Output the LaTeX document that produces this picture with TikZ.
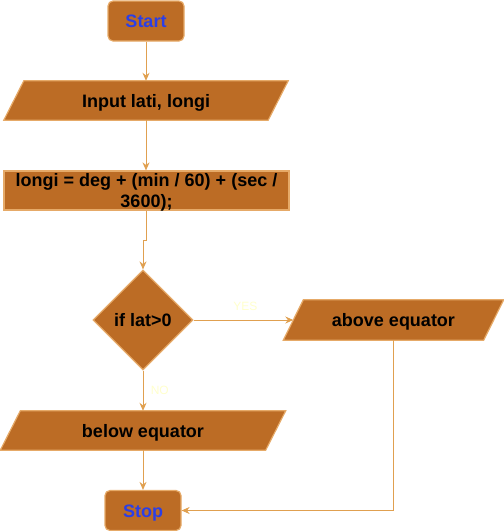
\documentclass[tikz,border=0pt]{standalone}
\usepackage{fontspec}
\setmainfont{Liberation Sans}
\usetikzlibrary{shapes.geometric,arrows.meta,calc}
\definecolor{boxfill}{HTML}{BC6C25}
\definecolor{boxline}{HTML}{E6AA68}
\definecolor{arrowc}{HTML}{E0A050}
\definecolor{bluetext}{HTML}{2B3FE6}
\definecolor{labelc}{HTML}{FFFFCC}
\begin{document}
\begin{tikzpicture}[x=1pt,y=-1pt,
  txt/.style={font=\fontsize{18}{21}\selectfont\bfseries, text=black},
  one/.style={text height=13pt, text depth=0pt},
  term/.style={txt, one, rounded corners=5pt, draw=boxline, fill=boxfill, line width=1.2pt, text=bluetext, minimum width=76pt, minimum height=40pt, inner sep=0pt},
  procbox/.style={draw=boxline, fill=boxfill, line width=1.2pt, minimum width=285pt, minimum height=39pt, inner sep=0pt},
  iobox/.style={minimum height=39pt, inner sep=0pt},
  decbox/.style={txt, one, diamond, aspect=1, draw=boxline, fill=boxfill, line width=1.2pt, minimum size=100pt, inner sep=0pt},
  flow/.style={draw=arrowc, line width=1pt, -{Stealth[length=8pt,width=7pt]}},
  lbl/.style={font=\fontsize{12}{14}\selectfont, text=labelc}
]
\useasboundingbox (0,0) rectangle (504,531);
\node[term] (start) at (146,21) {Start};
\node[iobox, minimum width=264pt] (input) at (146,100.5) {};
\node[procbox] (calc) at (146.5,190.5) {};
\node[decbox] (dec) at (143,320) {if lat>0};
\node[iobox, minimum width=200pt, minimum height=40pt] (above) at (393.5,320) {};
\node[iobox, minimum width=265pt] (below) at (143,430.5) {};
\node[term] (stop) at (143,510.5) {Stop};
% parallelograms
\foreach \n in {input,above,below}{
  \filldraw[draw=boxline, fill=boxfill, line width=1.2pt]
    ($(\n.north west)+(10,0)$) -- ($(\n.north east)+(10,0)$) --
    ($(\n.south east)+(-10,0)$) -- ($(\n.south west)+(-10,0)$) -- cycle;
}
\node[txt, one] (inputtxt) at (input) {Input lati, longi};
\node[txt, one] (abovetxt) at (above) {above equator};
\node[txt, one] (belowtxt) at (below) {below equator};
\node[txt, align=center, inner sep=0pt, yshift=-1.5pt] (calctxt) at (calc) {longi = deg + (min / 60) + (sec /\\3600);};
% connectors
\coordinate (jog) at (146,240);
\draw[flow] (start.south) -- (input.north);
\draw[flow] (input.south) -- (calc.north -| input.south);
\draw[flow] (calc.south -| jog) -- (jog) -| (dec.north);
\draw[flow] (dec.east) -- node[lbl, pos=0.52, above=6pt] (yes) {YES} (above.west);
\draw[flow] (dec.south) -- node[lbl, pos=0.5, right=4pt] (no) {NO} (below.north);
\draw[flow] (below.south) -- (stop.north);
\draw[flow] (above.south) |- (stop.east);
\end{tikzpicture}
\end{document}
